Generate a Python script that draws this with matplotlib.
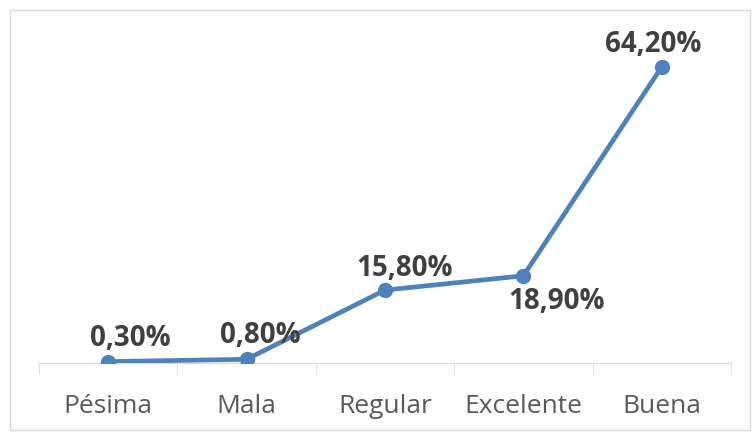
import matplotlib
matplotlib.use("Agg")
import matplotlib.pyplot as plt
from matplotlib.patches import Rectangle

categorias = ["Pésima", "Mala", "Regular", "Excelente", "Buena"]
porcentajes = [0.3, 0.8, 15.8, 18.9, 64.2]
etiquetas = ["0,30%", "0,80%", "15,80%", "18,90%", "64,20%"]

# desplazamiento de cada etiqueta (px)
offsets = [(22, 9), (14, 9), (20, 7), (33, -11), (-9, 8)]
valign = ["bottom", "bottom", "bottom", "top", "bottom"]

plt.rcParams['font.family'] = ['Open Sans', 'DejaVu Sans']

fig = plt.figure(figsize=(7.52, 4.34), dpi=100)
fig.patches.append(Rectangle((10 / 752, 4 / 434), 740 / 752, 420 / 434, transform=fig.transFigure,
                             fill=False, edgecolor="#d9d9d9", linewidth=1))
ax = fig.add_axes([39 / 752, 71 / 434, 692 / 752, 323 / 434])

x = list(range(len(categorias)))
ax.plot(x, porcentajes, color="#4f81bd", linewidth=3.4, marker="o", markersize=10,
        solid_capstyle="round")

for xi, v, lab, off, va in zip(x, porcentajes, etiquetas, offsets, valign):
    ax.annotate(lab, (xi, v), xytext=off, textcoords="offset pixels", ha="center", va=va,
                fontsize=20, fontweight="bold", color="#404040")

ax.set_xlim(-0.5, len(categorias) - 0.5)
ax.set_ylim(0, 70)
ax.set_yticks([])
ax.set_xticks(x)
ax.set_xticklabels(categorias, fontsize=19, color="#595959")
ax.set_xticks([i - 0.5 for i in range(len(categorias) + 1)], minor=True)
ax.tick_params(axis="x", which="major", length=0, pad=22)
ax.tick_params(axis="x", which="minor", length=8, color="#d9d9d9", direction="out")
for s in ["top", "right", "left"]:
    ax.spines[s].set_visible(False)
ax.spines["bottom"].set_color("#d9d9d9")
ax.spines["bottom"].set_zorder(0)

fig.savefig("out.png", dpi=100)
